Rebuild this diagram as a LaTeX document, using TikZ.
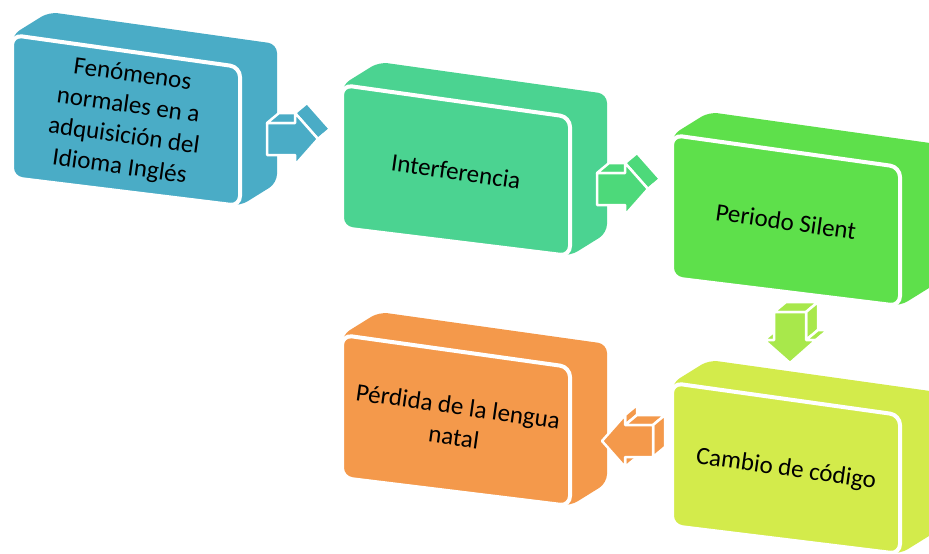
\documentclass[tikz,border=0pt]{standalone}
\usepackage{fontspec}
\setmainfont{Carlito}
\usetikzlibrary{calc}
\definecolor{cA}{HTML}{4AACC6}
\definecolor{cB}{HTML}{4BD391}
\definecolor{cC}{HTML}{5EE04B}
\definecolor{cD}{HTML}{F4994B}
\definecolor{cE}{HTML}{D3EB4B}
\definecolor{aB}{HTML}{4DD97A}
\definecolor{aC}{HTML}{A8E84B}
\tikzset{
  boxhull/.style={fill=#1, draw=none, rounded corners=9pt},
  boxfront/.style={fill=#1, draw=white, line width=4pt, rounded corners=10pt},
  boxtext/.style={align=center, rotate=-8, font=\fontsize{25}{31}\selectfont, text=black},
  arrface/.style={fill=#1, draw=white, line width=2.5pt, line join=round},
}
\newcommand\solidbox[4]{%
  \begin{scope}[shift={(#2,#3)}]
    \path[boxhull=#4] (12,35) -- (49,12) -- (277,44) -- (277,183) -- (240,206) -- (12,178) -- cycle;
    \path[boxfront=#4] (12,35) -- (240,67) -- (240,206) -- (12,178) -- cycle;
    \coordinate (#1) at (126,121.5);
  \end{scope}}
% arrow front points, local frame pointing +x
\newcommand\arrowpts[3]{%
  \begin{scope}[shift={#2}, rotate=#3]
    \coordinate (#1p1) at (0,-16);
    \coordinate (#1p2) at (28,-16);
    \coordinate (#1p3) at (28,-26);
    \coordinate (#1p4) at (51,0);
    \coordinate (#1p5) at (28,26);
    \coordinate (#1p6) at (28,16);
    \coordinate (#1p7) at (0,16);
  \end{scope}}
\newcommand\sideface[3]{%
  \path[arrface=#3] (#1) -- (#2) -- ($(#2)+(12,-10)$) -- ($(#1)+(12,-10)$) -- cycle;}
\newcommand\frontface[2]{%
  \path[arrface=#2] (#1p1) -- (#1p2) -- (#1p3) -- (#1p4) -- (#1p5) -- (#1p6) -- (#1p7) -- cycle;}
\begin{document}
\begin{tikzpicture}[x=1pt, y=-1pt]
\useasboundingbox (0,0) rectangle (929,554);
\fill[white] (0,0) rectangle (929,554);
% boxes
\solidbox{c1}{0}{0}{cA}
\solidbox{c2}{330}{50}{cB}
\solidbox{c3}{660}{100}{cC}
\solidbox{c4}{330}{300}{cD}
\solidbox{c5}{660}{348}{cE}
% texts
\node[boxtext] (t1) at (c1) {Fenómenos\\normales en a\\adquisición del\\Idioma Inglés};
\node[boxtext] (t2) at (c2) {Interferencia};
\node[boxtext] (t3) at (c3) {Periodo Silent};
\node[boxtext] (t4) at (c4) {Pérdida de la lengua\\natal};
\node[boxtext] (t5) at (c5) {Cambio de código};
% arrow 1 (right)
\arrowpts{a}{(267,139)}{0}
\sideface{ap1}{ap2}{cA}
\sideface{ap3}{ap4}{cA}
\sideface{ap4}{ap5}{cA}
\frontface{a}{cA}
% arrow 2 (right)
\arrowpts{b}{(597,189)}{0}
\sideface{bp1}{bp2}{aB}
\sideface{bp3}{bp4}{aB}
\sideface{bp4}{bp5}{aB}
\frontface{b}{aB}
% arrow 3 (down)
\arrowpts{c}{(790,312)}{-90}
\sideface{cp7}{cp1}{aC}
\sideface{cp1}{cp2}{aC}
\sideface{cp2}{cp3}{aC}
\sideface{cp3}{cp4}{aC}
\sideface{cp5}{cp6}{aC}
\frontface{c}{aC}
% arrow 4 (left)
\arrowpts{d}{(653,441)}{180}
\sideface{dp2}{dp3}{cD}
\sideface{dp5}{dp6}{cD}
\sideface{dp6}{dp7}{cD}
\sideface{dp7}{dp1}{cD}
\frontface{d}{cD}
\end{tikzpicture}
\end{document}
